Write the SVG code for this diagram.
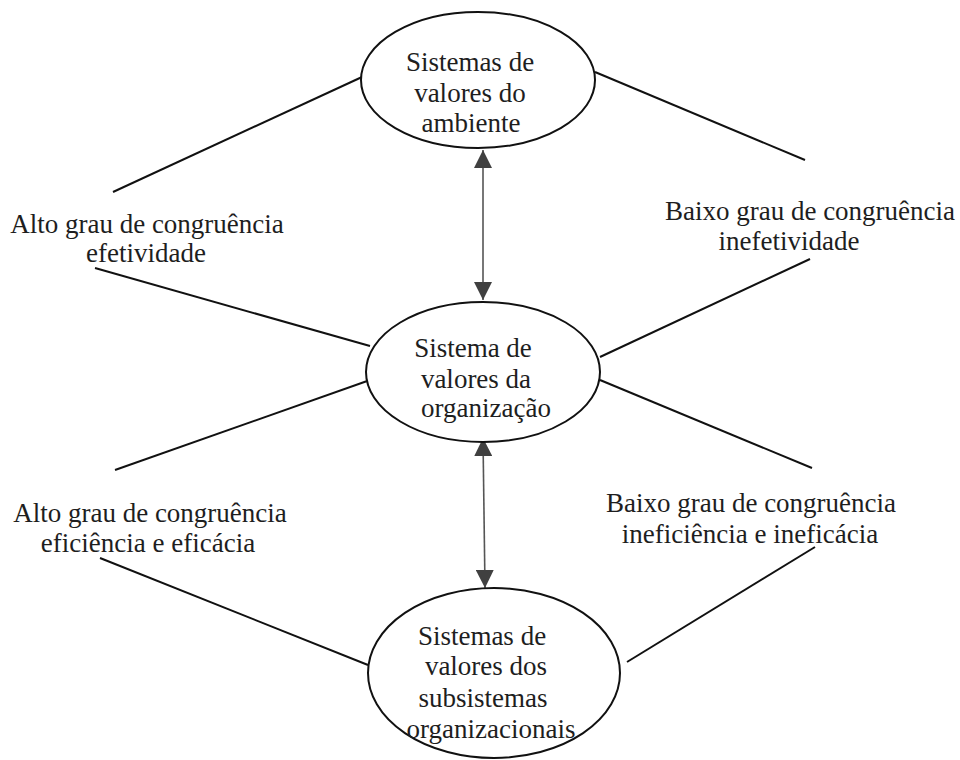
<svg xmlns="http://www.w3.org/2000/svg" width="960" height="760" viewBox="0 0 960 760">
  <style>
    .node ellipse { fill: #ffffff; stroke: #111111; stroke-width: 2; }
    text { font-family: "Liberation Serif", "Times New Roman", serif; font-size: 27px; fill: #1e1e1e; text-anchor: middle; }
    .edge { stroke: #111111; stroke-width: 2; fill: none; }
    .arrow { stroke: #555555; stroke-width: 1.6; fill: none; }
  </style>
  <defs>
    <marker id="head" viewBox="0 0 10 10" refX="10" refY="5" markerWidth="18" markerHeight="18" markerUnits="userSpaceOnUse" orient="auto-start-reverse">
      <path d="M0,0 L10,5 L0,10 Z" fill="#404040"/>
    </marker>
  </defs>

  <rect width="960" height="760" fill="#ffffff"/>

  <!-- connectors -->
  <g id="connectors">
    <line class="edge" x1="362" y1="77" x2="113" y2="192"/>
    <line class="edge" x1="595" y1="72" x2="805" y2="160"/>
    <line class="edge" x1="95" y1="268" x2="370" y2="346"/>
    <line class="edge" x1="810" y1="259" x2="600" y2="357"/>
    <line class="edge" x1="370" y1="380" x2="115" y2="470"/>
    <line class="edge" x1="600" y1="380" x2="812" y2="468"/>
    <line class="edge" x1="100" y1="558" x2="368" y2="665"/>
    <line class="edge" x1="815" y1="547" x2="627" y2="662"/>
    <line class="arrow" x1="483" y1="150" x2="483" y2="300" marker-start="url(#head)" marker-end="url(#head)"/>
    <line class="arrow" x1="483" y1="438" x2="485" y2="588" marker-start="url(#head)" marker-end="url(#head)"/>
  </g>

  <!-- value-system nodes -->
  <g id="ambiente" class="node">
    <ellipse cx="478" cy="80" rx="117" ry="68"/>
    <text x="470" y="71">Sistemas de</text>
    <text x="470" y="102">valores do</text>
    <text x="471" y="132">ambiente</text>
  </g>
  <g id="organizacao" class="node">
    <ellipse cx="483" cy="372" rx="117" ry="70"/>
    <text x="473" y="357">Sistema de</text>
    <text x="476" y="388">valores da</text>
    <text x="486" y="417">organização</text>
  </g>
  <g id="subsistemas" class="node">
    <ellipse cx="494" cy="673" rx="126" ry="85"/>
    <text x="482" y="645">Sistemas de</text>
    <text x="486" y="675">valores dos</text>
    <text x="483" y="707">subsistemas</text>
    <text x="491" y="738">organizacionais</text>
  </g>

  <!-- congruence labels -->
  <g id="alto-efetividade">
    <text x="147" y="233">Alto grau de congruência</text>
    <text x="146" y="262">efetividade</text>
  </g>
  <g id="baixo-inefetividade">
    <text x="810" y="220">Baixo grau de congruência</text>
    <text x="789" y="250">inefetividade</text>
  </g>
  <g id="alto-eficiencia">
    <text x="150" y="522">Alto grau de congruência</text>
    <text x="148" y="552">eficiência e eficácia</text>
  </g>
  <g id="baixo-ineficiencia">
    <text x="751" y="512">Baixo grau de congruência</text>
    <text x="750" y="543">ineficiência e ineficácia</text>
  </g>
</svg>
